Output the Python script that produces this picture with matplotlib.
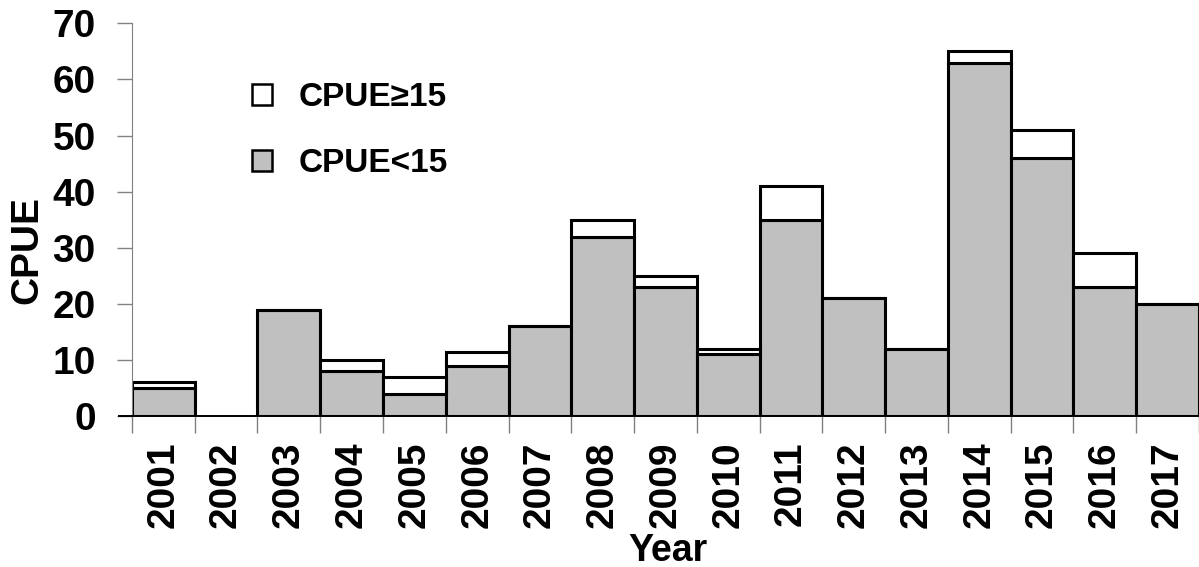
#!/usr/bin/python
"""
    Stacked bar chart of yearly CPUE split by CPUE class
"""

# import python third party modules
import matplotlib
matplotlib.use('Agg')
import matplotlib.pyplot as plt
from matplotlib.lines import Line2D
from matplotlib.patches import Patch
import numpy as np

# define global variables
YEARS = ['2001', '2002', '2003', '2004', '2005', '2006', '2007', '2008',
         '2009', '2010', '2011', '2012', '2013', '2014', '2015', '2016',
         '2017']
CPUE_LOW = [5, 0, 19, 8, 4, 9, 16, 32, 23, 11, 35, 21, 12, 63, 46, 23, 20]
CPUE_TOTAL = [6, 0, 19, 10, 7, 11.5, 16, 35, 25, 12, 41, 21, 12, 65, 51,
              29, 20]
Y_TICKS = [0, 10, 20, 30, 40, 50, 60, 70]

plt.rcParams['font.family'] = ['Liberation Sans', 'DejaVu Sans']
plt.rcParams['font.weight'] = 'bold'

low = np.array(CPUE_LOW, dtype=float)
high = np.array(CPUE_TOTAL, dtype=float) - low
xpos = np.arange(len(YEARS))

fig = plt.figure(figsize=(11.99, 5.67), dpi=100)
ax = fig.add_axes([0.110, 0.266, 0.890, 0.693])

# draw bars (skip empty years so no zero-height outline appears)
mask = np.array(CPUE_TOTAL) > 0
ax.bar(xpos[mask], low[mask], width=1.0, color='#c0c0c0',
       edgecolor='black', linewidth=2.2, zorder=2)
ax.bar(xpos[mask], high[mask], bottom=low[mask], width=1.0, color='white',
       edgecolor='black', linewidth=2.2, zorder=2)

# axes limits and ticks
ax.set_xlim(-0.5, len(YEARS) - 0.5)
ax.set_ylim(0, 70)
ax.set_yticks(Y_TICKS)
ax.tick_params(axis='y', direction='out', length=11, width=1,
               color='#808080', labelsize=28, pad=15)
ax.set_xticks(xpos)
ax.set_xticklabels(YEARS, rotation=90, fontsize=28, fontweight='bold')
ax.tick_params(axis='x', which='major', length=0, pad=18)
ax.set_xticks(np.arange(len(YEARS) + 1) - 0.5, minor=True)
ax.tick_params(axis='x', which='minor', direction='out', length=12,
               width=1, color='#808080')
for lab in ax.get_yticklabels():
    lab.set_fontweight('bold')

# spines
for side in ['top', 'right']:
    ax.spines[side].set_visible(False)
ax.spines['left'].set_color('#808080')
ax.spines['bottom'].set_color('black')
ax.spines['bottom'].set_linewidth(1.4)
# small stub of the x axis line left of the y axis
ax.add_line(Line2D([-0.012, 0], [0, 0], transform=ax.transAxes,
                   color='black', linewidth=1.4, clip_on=False))

# labels
ax.set_ylabel('CPUE', fontsize=28, fontweight='bold')
ax.yaxis.set_label_coords(-0.0815, 0.422)
ax.set_xlabel('Year', fontsize=27, fontweight='bold')
ax.xaxis.set_label_coords(0.502, -0.298)

# legend
handles = [Patch(facecolor='white', edgecolor='black', linewidth=1.8),
           Patch(facecolor='#c0c0c0', edgecolor='black', linewidth=1.8)]
ax.legend(handles, ['CPUE\u226515', 'CPUE<15'], loc='upper left',
          bbox_to_anchor=(0.084, 0.926), frameon=False,
          handlelength=0.6, handleheight=0.6, handletextpad=0.8,
          labelspacing=1.05, prop={'weight': 'bold', 'size': 24})

fig.savefig('out.png', dpi=100)
